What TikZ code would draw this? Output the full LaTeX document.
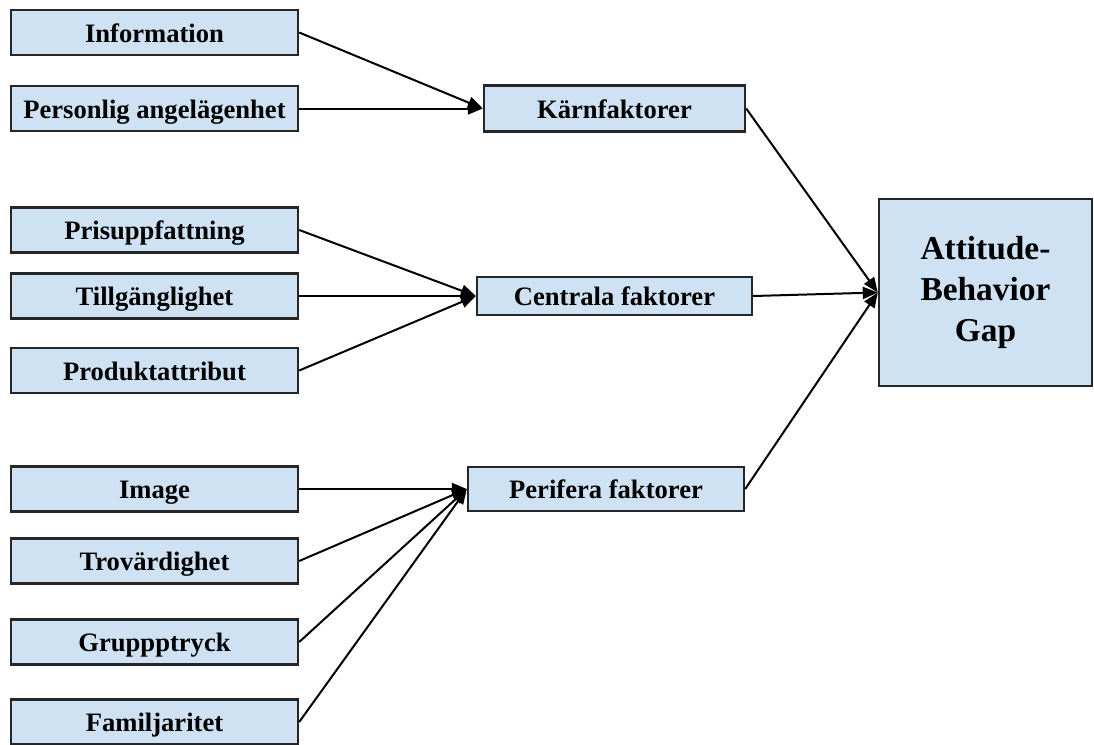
\documentclass[tikz,border=0pt]{standalone}
\usepackage{fontspec}
\setmainfont{Liberation Serif}
\usetikzlibrary{arrows.meta}
\definecolor{boxblue}{RGB}{207,226,243}

\begin{document}
\begin{tikzpicture}[x=0.5pt,y=-0.5pt,
	factor/.style = {draw=black!85,fill=boxblue,line width=1.2pt,inner sep=0pt,text height=9.5pt,text depth=0pt,font=\bfseries\fontsize{13.3}{16}\selectfont},
	pil/.style = {line width=1pt,-{Triangle[length=7.5pt,width=6pt]}}]
	\useasboundingbox (0,0) rectangle (1094,745);
	\begin{scope}[every node/.style={factor,minimum width=143.5pt,minimum height=22.5pt}]
		\node (info) at (154.5,32.5) {Information};
		\node (pers) at (154.5,108.5) {Personlig angelägenhet};
		\node (pris) at (154.5,230) {Prisuppfattning};
		\node (till) at (154.5,296) {Tillgänglighet};
		\node (prod) at (154.5,370.5) {Produktattribut};
		\node (imag) at (154.5,489) {Image};
		\node (trov) at (154.5,561) {Trovärdighet};
		\node (grup) at (154.5,642) {Gruppptryck};
		\node (fami) at (154.5,722) {Familjaritet};
	\end{scope}
	\node[factor,minimum width=130.5pt,minimum height=23pt] (karn) at (614.5,108.5) {Kärnfaktorer};
	\node[factor,minimum width=137.5pt,minimum height=19pt] (cent) at (614.5,296) {Centrala faktorer};
	\node[factor,minimum width=138pt,minimum height=22pt] (peri) at (606,489) {Perifera faktorer};
	\node[factor,text height=,text depth=,minimum width=106.5pt,minimum height=93.5pt,align=center,
		font=\bfseries\fontsize{16.7}{20.5}\selectfont] (gap) at (985.5,292.5) {Attitude-\\Behavior\\Gap};
	\draw [pil] (info.east) -- (karn.west);
	\draw [pil] (pers.east) -- (karn.west);
	\draw [pil] (pris.east) -- (cent.west);
	\draw [pil] (till.east) -- (cent.west);
	\draw [pil] (prod.east) -- (cent.west);
	\draw [pil] (imag.east) -- (peri.west);
	\draw [pil] (trov.east) -- (peri.west);
	\draw [pil] (grup.east) -- (peri.west);
	\draw [pil] (fami.east) -- (peri.west);
	\draw [pil] (karn.east) -- (gap.west);
	\draw [pil] (cent.east) -- (gap.west);
	\draw [pil] (peri.east) -- (gap.west);
\end{tikzpicture}
\end{document}
